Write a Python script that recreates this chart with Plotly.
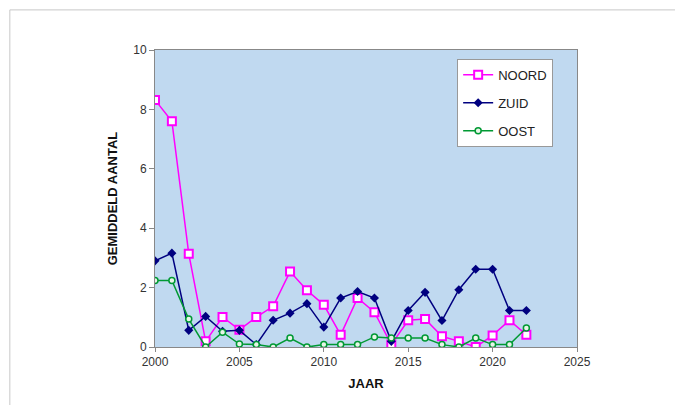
import plotly.graph_objects as go

years = list(range(2000, 2023))
noord = [8.32, 7.60, 3.14, 0.19, 1.01, 0.58, 1.01, 1.37, 2.54, 1.91, 1.42, 0.41,
         1.65, 1.17, 0.08, 0.90, 0.94, 0.36, 0.19, 0.0, 0.39, 0.90, 0.41]
zuid = [2.90, 3.16, 0.56, 1.03, 0.53, 0.56, 0.08, 0.90, 1.14, 1.46, 0.67, 1.65,
        1.87, 1.65, 0.19, 1.23, 1.84, 0.89, 1.93, 2.62, 2.62, 1.23, 1.23]
oost = [2.24, 2.24, 0.94, 0.0, 0.50, 0.10, 0.08, 0.0, 0.30, 0.0, 0.08, 0.08,
        0.08, 0.34, 0.30, 0.30, 0.30, 0.08, 0.0, 0.30, 0.08, 0.08, 0.64]

fig = go.Figure()
fig.add_trace(go.Scatter(x=years, y=noord, name="NOORD", mode="lines+markers", legendgroup="a",
                         line=dict(color="#FF00FF", width=1.5),
                         marker=dict(symbol="square", size=8, color="white",
                                     line=dict(color="#FF00FF", width=2))))
fig.add_trace(go.Scatter(x=years, y=zuid, name="ZUID", mode="lines+markers", legendgroup="b",
                         line=dict(color="#000080", width=1.5),
                         marker=dict(symbol="diamond", size=7, color="#000080")))
fig.add_trace(go.Scatter(x=years, y=oost, name="OOST", mode="lines+markers", legendgroup="c",
                         line=dict(color="#009933", width=1.5),
                         marker=dict(symbol="circle", size=6, color="#E8F5E8",
                                     line=dict(color="#009933", width=1.5))))

fig.update_layout(
    width=683, height=405,
    margin=dict(l=147, r=114, t=42, b=66),
    paper_bgcolor="white",
    plot_bgcolor="#C0D9F0",
    font=dict(family="Liberation Sans, Arial", size=12, color="#333"),
    legend=dict(x=0.716, y=0.97, xanchor="left", yanchor="top",
                bgcolor="white", bordercolor="#999", borderwidth=1,
                font=dict(size=13, color="#222"), tracegroupgap=8,
                itemwidth=30),
    showlegend=True,
    shapes=[dict(type="rect", xref="paper", yref="paper",
                 x0=-0.344, x1=1.242, y0=-0.4, y1=1.135,
                 line=dict(color="#C8C8C8", width=1), layer="below")],
)
fig.update_xaxes(range=[2000, 2025], tickvals=[2000, 2005, 2010, 2015, 2020, 2025],
                 showgrid=False, zeroline=False, showline=True, linecolor="#888",
                 linewidth=1, mirror=True, ticks="outside", ticklen=4, tickcolor="#888",
                 title=dict(text="<b>JAAR</b>", font=dict(size=13, color="#111"), standoff=10))
fig.update_yaxes(range=[0, 10], tickvals=[0, 2, 4, 6, 8, 10],
                 showgrid=False, zeroline=False, showline=True, linecolor="#888",
                 linewidth=1, mirror=True, ticks="outside", ticklen=5, tickcolor="#888",
                 title=dict(text="<b>GEMIDDELD AANTAL</b>", font=dict(size=13, color="#111"), standoff=12))

fig.write_html("out.html")
